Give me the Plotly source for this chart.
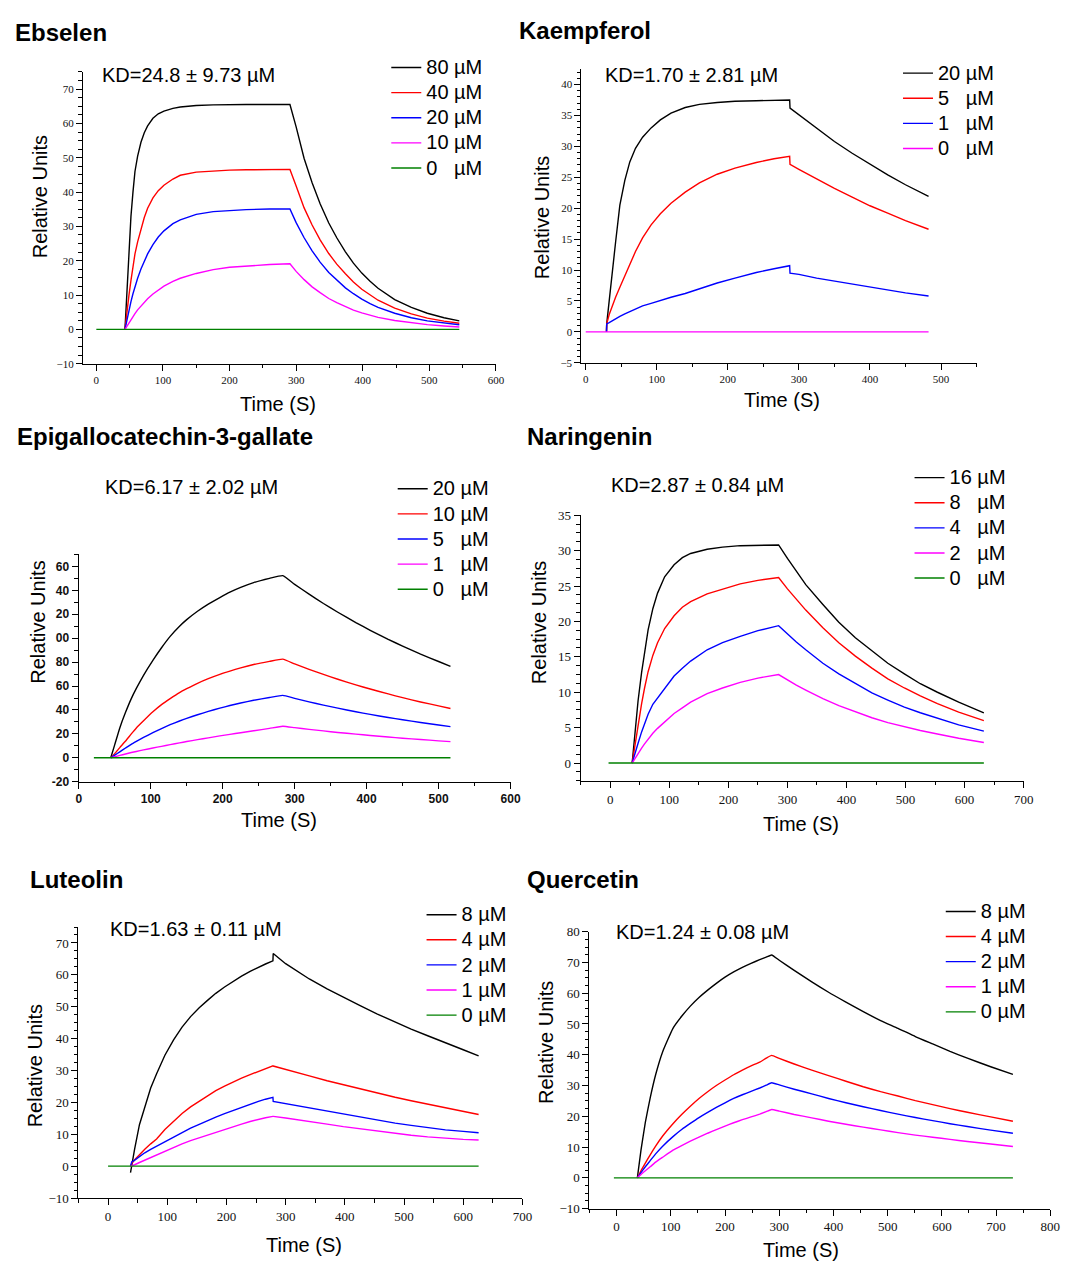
import plotly.graph_objects as go

W, H = 1070, 1270

# ---------------------------------------------------------------- data
# Ebselen
ebs_labels = ["80 µM", "40 µM", "20 µM", "10 µM", "0\u00a0\u00a0\u00a0µM"]
ebs_t = [43, 46, 49, 52, 55, 58, 62, 67, 72, 77, 85, 93, 101.5, 115, 126, 150, 175.5, 200, 225, 260, 290.7,
         300, 312, 324, 336, 349, 361, 374, 386, 398.6, 411, 423, 448, 473, 497, 522, 545]
ebs_80 = [0, 12, 22, 33, 40, 46, 50.5, 54.5, 57.3, 59.3, 61.5, 62.8, 63.6, 64.4, 64.8, 65.2, 65.4, 65.5, 65.5, 65.5, 65.5,
          59, 49.8, 42.7, 36.6, 31.0, 26.7, 22.6, 19.3, 16.4, 14.0, 12.0, 8.7, 6.4, 4.7, 3.4, 2.5]
ebs_40 = [0, 5.5, 10, 14.3, 18.5, 22, 25.5, 29.5, 32.6, 35.3, 38.3, 40.4, 42, 43.8, 44.9, 45.8, 46.2, 46.4, 46.5, 46.6, 46.6,
          41.8, 35.4, 30.4, 26.1, 22.1, 19.0, 16.2, 13.8, 11.7, 10.0, 8.5, 6.2, 4.5, 3.3, 2.4, 1.8]
ebs_20 = [0, 2.9, 5.6, 8.1, 10.4, 12.6, 14.9, 17.6, 20, 22, 24.7, 26.9, 28.7, 30.8, 31.9, 33.5, 34.3, 34.7, 34.9, 35.05, 35.1,
          31.1, 26.7, 22.9, 19.6, 16.6, 14.3, 12.1, 10.4, 8.8, 7.5, 6.4, 4.7, 3.4, 2.5, 1.8, 1.35]
ebs_10 = [0, 1.0, 2.0, 2.9, 3.8, 4.6, 5.7, 6.8, 7.9, 8.9, 10.3, 11.5, 12.6, 14.0, 14.9, 16.3, 17.4, 18.1, 18.5, 18.9, 19.1,
          16.9, 14.5, 12.4, 10.7, 9.0, 7.8, 6.6, 5.6, 4.8, 4.1, 3.5, 2.6, 1.9, 1.4, 1.0, 0.7]
ebs_0_t = [0, 545]
ebs_0 = [0, 0]

# Kaempferol
kae_labels = ["20 µM", "5\u00a0\u00a0\u00a0µM", "1\u00a0\u00a0\u00a0µM", "0\u00a0\u00a0\u00a0µM"]
kae_t = [29.2, 29.5, 33, 37, 42, 48, 55, 62, 70, 80, 92, 105, 120, 140, 160, 185, 210, 240, 265, 287,
         287.5, 300, 325, 350, 375, 400, 425, 450, 482.5]
kae_20 = [0, 1.3, 5, 9.5, 14.5, 20.5, 24.5, 27.5, 29.7, 31.5, 33, 34.3, 35.4, 36.3, 36.8, 37.1, 37.3, 37.4, 37.5, 37.5,
          36.2, 35.1, 32.9, 30.8, 28.9, 27.1, 25.4, 23.8, 21.9]
kae_5 = [0, 1.3, 2.8, 4.1, 5.6, 7.2, 9.0, 11.0, 13.0, 15.2, 17.3, 19.1, 20.8, 22.6, 24.1, 25.5, 26.5, 27.4, 28.0, 28.4,
         27.1, 26.3, 24.7, 23.2, 21.8, 20.4, 19.2, 18.0, 16.6]
kae_1 = [0, 1.3, 1.5, 1.8, 2.1, 2.5, 2.9, 3.3, 3.7, 4.2, 4.6, 5.1, 5.6, 6.2, 7.0, 7.9, 8.7, 9.6, 10.2, 10.7,
         9.5, 9.3, 8.7, 8.2, 7.7, 7.2, 6.8, 6.3, 5.8]
kae_0_t = [0, 482.5]
kae_0 = [0, 0]

# Epigallocatechin-3-gallate
egc_labels = ["20 µM", "10 µM", "5\u00a0\u00a0\u00a0µM", "1\u00a0\u00a0\u00a0µM", "0\u00a0\u00a0\u00a0µM"]
egc_t = [44.5, 50, 57, 65, 73, 80, 90, 103, 115, 127, 140, 150, 165, 180, 196, 210, 225, 243, 265, 283.5,
         300, 320, 340, 360, 385, 405, 430, 450, 475, 500, 516.5]
egc_20 = [0, 11, 25, 38, 49.5, 58, 69, 81.5, 92, 101.5, 110, 115.5, 122.5, 128.5, 134, 138.5, 142.5, 146.5, 150, 152.3,
          145, 136.8, 129, 121.7, 113, 106.6, 99, 93.4, 86.7, 80.5, 76.4]
egc_10 = [0, 3.5, 8.5, 14, 20, 25, 31, 38.5, 44.5, 49.5, 54.5, 57.8, 62.3, 66.2, 69.8, 72.5, 75.2, 78, 80.6, 82.5,
          78.5, 74, 69.7, 65.7, 61, 57.5, 53.4, 50.3, 46.7, 43.4, 41.2]
egc_5 = [0, 2.2, 5, 8.2, 11.3, 13.7, 17, 21, 24.5, 27.7, 30.8, 33, 36, 38.8, 41.5, 43.7, 45.8, 48.1, 50.4, 52.2,
         49.7, 46.8, 44.1, 41.5, 38.5, 36.3, 33.7, 31.8, 29.5, 27.4, 26.1]
egc_1 = [0, 0.9, 2, 3.2, 4.4, 5.3, 6.6, 8.2, 9.6, 11, 12.5, 13.6, 15.2, 16.7, 18.3, 19.6, 21, 22.6, 24.6, 26.4,
         25.2, 23.8, 22.5, 21.2, 19.8, 18.7, 17.4, 16.4, 15.3, 14.2, 13.5]
egc_0_t = [21, 516.5]
egc_0 = [0, 0]
egc_ytickvals = [-20, 0, 20, 40, 60, 80, 100, 120, 140, 160]
egc_yticktext = ["-20", "0", "20", "40", "60", "80", "00", "20", "40", "60"]

# Naringenin
nar_labels = ["16 µM", "8\u00a0\u00a0\u00a0µM", "4\u00a0\u00a0\u00a0µM", "2\u00a0\u00a0\u00a0µM", "0\u00a0\u00a0\u00a0µM"]
nar_t = [37, 42, 47, 53, 58, 64, 72, 80, 92, 108, 122, 136, 164, 190, 220, 250, 285,
         300, 315, 331, 360, 387, 415, 443, 470, 498, 525, 554, 590, 632.6]
nar_16 = [0, 5, 8.8, 12.8, 15.5, 18.8, 21.8, 24, 26.3, 28, 29, 29.6, 30.2, 30.5, 30.7, 30.75, 30.8,
          28.9, 27.1, 25.2, 22.4, 19.9, 17.7, 15.8, 14.1, 12.6, 11.2, 10, 8.6, 7.1]
nar_8 = [0, 2.8, 5.3, 8.4, 10.6, 12.9, 15.2, 17, 19, 20.8, 22, 22.8, 23.9, 24.6, 25.3, 25.8, 26.2,
         24.6, 23.1, 21.6, 19.1, 17.0, 15.1, 13.4, 11.9, 10.6, 9.5, 8.4, 7.2, 6.0]
nar_4 = [0, 1.5, 2.8, 4.4, 5.6, 6.9, 8.3, 9.2, 10.6, 12.3, 13.4, 14.4, 16, 17, 17.9, 18.7, 19.4,
         18.2, 17.1, 16, 14.1, 12.6, 11.2, 9.9, 8.9, 7.9, 7.1, 6.3, 5.4, 4.5]
nar_2 = [0, 0.7, 1.4, 2.1, 2.7, 3.4, 4.2, 4.9, 5.8, 7, 7.8, 8.6, 9.8, 10.6, 11.4, 12, 12.5,
         11.7, 11, 10.3, 9.1, 8.1, 7.2, 6.4, 5.7, 5.1, 4.6, 4.1, 3.5, 2.9]
nar_0_t = [-3, 632.6]
nar_0 = [0, 0]

# Luteolin
lut_labels = ["8 µM", "4 µM", "2 µM", "1 µM", "0 µM"]
lut_t = [37.9, 40, 45, 53, 62, 72, 82, 96, 110.7, 125, 139.4, 154, 168, 182, 196.8, 211, 225.5, 240, 254, 266, 278.5,
         279, 300, 320, 340, 370, 397.6, 425, 455, 485, 512, 540, 570, 600, 626]
lut_8 = [-2, 0.5, 5.5, 13, 18.8, 24.5, 29, 34.8, 39.6, 43.6, 46.9, 49.7, 52, 54.2, 56.2, 58, 59.6, 61.1, 62.4, 63.4, 64.4,
         66.7, 63.5, 61, 58.7, 55.6, 52.9, 50.4, 47.7, 45.1, 43, 40.9, 38.6, 36.5, 34.6]
lut_4 = [0, 0.8, 2, 3.6, 5.3, 7, 8.5, 11.5, 14.2, 16.5, 18.6, 20.4, 22.1, 23.7, 25.1, 26.4, 27.6, 28.7, 29.8, 30.7, 31.5,
         31.4, 30.4, 29.3, 28.3, 26.8, 25.5, 24.3, 22.9, 21.6, 20.5, 19.4, 18.3, 17.1, 16.2]
lut_2 = [0, 1.3, 1.9, 3, 4.2, 5.3, 6.3, 7.8, 9.2, 10.6, 11.9, 13.1, 14.3, 15.4, 16.5, 17.5, 18.5, 19.4, 20.3, 21, 21.6,
         20.3, 19.6, 18.8, 18.1, 17.1, 16.2, 15.3, 14.4, 13.5, 12.8, 12.1, 11.4, 10.9, 10.5]
lut_1 = [0, 0.1, 0.45, 1.15, 1.9, 2.75, 3.6, 4.7, 6.0, 7.0, 8.0, 8.9, 9.8, 10.7, 11.6, 12.4, 13.2, 14, 14.7, 15.2, 15.6,
         15.6, 15.1, 14.6, 14, 13.2, 12.4, 11.7, 11, 10.3, 9.7, 9.2, 8.7, 8.4, 8.2]
lut_0_t = [0, 626]
lut_0 = [0, 0]

# Quercetin
que_labels = ["8 µM", "4 µM", "2 µM", "1 µM", "0 µM"]
que_t = [38.3, 45, 53, 62, 72, 85, 104, 120, 136, 152, 168, 184, 200, 216, 232, 248, 264, 276, 286,
         300, 327.6, 360, 391, 423, 455, 487, 519, 551, 583, 615, 647, 690, 731]
que_8 = [0, 9, 18, 26, 33.5, 41, 48.6, 52.5, 55.8, 58.6, 61, 63.2, 65.2, 66.9, 68.4, 69.7, 70.9, 71.7, 72.4,
         70.7, 67.4, 63.7, 60.3, 57.1, 54, 51.1, 48.6, 45.9, 43.5, 41.1, 38.9, 36.1, 33.6]
que_4 = [0, 2.3, 4.8, 7.5, 10.3, 13.6, 17.6, 20.6, 23.3, 25.8, 28, 30, 31.8, 33.5, 35, 36.4, 37.6, 38.9, 39.8,
         38.8, 37.0, 35, 33.2, 31.4, 29.6, 28, 26.6, 25.1, 23.8, 22.5, 21.3, 19.8, 18.4]
que_2 = [0, 1.7, 3.6, 5.6, 7.8, 10.3, 13.4, 15.7, 17.7, 19.6, 21.3, 22.9, 24.4, 25.8, 27, 28.1, 29.2, 30.1, 30.9,
         30.2, 28.8, 27.3, 25.8, 24.4, 23.1, 21.9, 20.7, 19.6, 18.6, 17.6, 16.7, 15.5, 14.5]
que_1 = [0, 1.1, 2.3, 3.6, 5.1, 6.7, 9, 10.5, 11.9, 13.2, 14.5, 15.7, 16.8, 17.9, 18.9, 19.8, 20.7, 21.5, 22.2,
         21.7, 20.6, 19.5, 18.4, 17.4, 16.5, 15.6, 14.7, 13.9, 13.2, 12.5, 11.8, 11, 10.2]
que_0_t = [-5, 731]
que_0 = [0, 0]

titles = ["Ebselen", "Kaempferol", "Epigallocatechin-3-gallate", "Naringenin", "Luteolin", "Quercetin"]
kd_texts = ["KD=24.8 ± 9.73 µM", "KD=1.70 ± 2.81 µM", "KD=6.17 ± 2.02 µM",
            "KD=2.87 ± 0.84 µM", "KD=1.63 ± 0.11 µM", "KD=1.24 ± 0.08 µM"]

# ---------------------------------------------------------------- styling / layout
BLACK, RED, BLUE, MAG, GREEN = "#000000", "#ff0000", "#0000ff", "#ff00ff", "#008000"
SANS = "Liberation Sans, Arial, sans-serif"
SERIF = "Liberation Serif, Times New Roman, serif"

panels = [
    dict(t=ebs_t, series=[ebs_80, ebs_40, ebs_20, ebs_10], zt=ebs_0_t, zy=ebs_0, labels=ebs_labels,
         colors=[BLACK, RED, BLUE, MAG, GREEN], tfs=11, smooth=False,
         xpx=(81, 499), ypx=(65.7, 361), xr=[-20, 600], yr=[-10, 75], ydt=10, ymin=2.5,
         title=(10, 26.3), kd=(98, 68.8), ytl=(37, 192), xtl=(278, 402), leg=(393, 61)),
    dict(t=kae_t, series=[kae_20, kae_5, kae_1], zt=kae_0_t, zy=kae_0, labels=kae_labels,
         colors=[BLACK, RED, BLUE, MAG], tfs=11, smooth=False,
         xpx=(585.6, 985.5), ypx=(62.3, 360), xr=[-6, 550], yr=[-5, 42.6], ydt=5, ymin=1,
         title=(520, 24), kd=(607.7, 69), ytl=(546.3, 213), xtl=(788.3, 398), leg=(911, 66.7)),
    dict(t=egc_t, series=[egc_20, egc_10, egc_5, egc_1], zt=egc_0_t, zy=egc_0, labels=egc_labels,
         colors=[BLACK, RED, BLUE, MAG, GREEN], tfs=12, smooth=True,
         xpx=(76.7, 513.8), ypx=(554, 784), xr=[0, 600], yr=[-20, 170], ydt=20, ymin=10,
         title=(11.8, 435), kd=(101.4, 485.7), ytl=(35.5, 623), xtl=(279.9, 822.7), leg=(399.5, 487.3),
         bold=True),
    dict(t=nar_t, series=[nar_16, nar_8, nar_4, nar_2], zt=nar_0_t, zy=nar_0, labels=nar_labels,
         colors=[BLACK, RED, BLUE, MAG, GREEN], tfs=13, smooth=False,
         xpx=(584.9, 1033.2), ypx=(514.3, 783), xr=[-50, 700], yr=[-2.5, 35], ydt=5, ymin=1.25,
         title=(528.8, 435), kd=(613, 483.3), ytl=(542.8, 623.3), xtl=(807.6, 826.7), leg=(922.7, 476)),
    dict(t=lut_t, series=[lut_8, lut_4, lut_2, lut_1], zt=lut_0_t, zy=lut_0, labels=lut_labels,
         colors=[BLACK, RED, BLUE, MAG, GREEN], tfs=13, smooth=False,
         xpx=(76.4, 525.8), ypx=(931, 1205.3), xr=[-50, 700], yr=[-10, 75], ydt=10, ymin=2.5,
         title=(25.8, 883.3), kd=(106, 932.7), ytl=(32.7, 1071.7), xtl=(304.7, 1252.7), leg=(428.7, 918.3)),
    dict(t=que_t, series=[que_8, que_4, que_2, que_1], zt=que_0_t, zy=que_0, labels=que_labels,
         colors=[BLACK, RED, BLUE, MAG, GREEN], tfs=13, smooth=True,
         xpx=(593.7, 1060.2), ypx=(935.7, 1216), xr=[-50, 800], yr=[-10, 80], ydt=10, ymin=2.5,
         title=(528.8, 883.3), kd=(618.2, 936), ytl=(549.8, 1048.3), xtl=(807.6, 1257.5), leg=(954.3, 915)),
]


def fx(px):
    return px / W


def fy(py):
    return 1 - py / H


fig = go.Figure()
annotations = []
layout = {}

for i, p in enumerate(panels, start=1):
    sfx = "" if i == 1 else str(i)
    leg_id = "legend" if i == 1 else f"legend{i}"
    names = [f'<span style="font-size:20px">{lab}</span>' for lab in p["labels"]]
    shape = dict(shape="spline", smoothing=0.4) if p["smooth"] else dict(shape="linear")
    for k, vals in enumerate(p["series"]):
        fig.add_trace(go.Scatter(x=p["t"], y=vals, mode="lines", name=names[k],
                                 line=dict(color=p["colors"][k], width=1.4, **shape),
                                 xaxis=f"x{sfx}", yaxis=f"y{sfx}", legend=leg_id))
    k = len(p["series"])
    fig.add_trace(go.Scatter(x=p["zt"], y=p["zy"], mode="lines", name=names[k],
                             line=dict(color=p["colors"][k], width=1.4),
                             xaxis=f"x{sfx}", yaxis=f"y{sfx}", legend=leg_id))

    bold = p.get("bold", False)
    tfont = dict(family=SANS if bold else SERIF, size=p["tfs"], color="#111",
                 weight="bold" if bold else "normal")
    common = dict(showline=True, linecolor="black", linewidth=1.3, ticks="outside", ticklen=6,
                  tickwidth=1, tickcolor="black", showgrid=False, zeroline=False, tickfont=tfont,
                  fixedrange=True)
    layout[f"xaxis{sfx}"] = dict(common, domain=[fx(p["xpx"][0]), fx(p["xpx"][1])], range=p["xr"],
                                 anchor=f"y{sfx}", tick0=0, dtick=100,
                                 minor=dict(dtick=50, tick0=0, ticks="outside", ticklen=3.5,
                                            tickwidth=1, tickcolor="black"))
    ydict = dict(common, domain=[fy(p["ypx"][1]), fy(p["ypx"][0])], range=p["yr"],
                 anchor=f"x{sfx}", tick0=0, dtick=p["ydt"],
                 minor=dict(dtick=p["ymin"], tick0=0, ticks="outside", ticklen=3.5,
                            tickwidth=1, tickcolor="black"))
    if i == 3:
        ydict.update(tickmode="array", tickvals=egc_ytickvals, ticktext=egc_yticktext)
        ydict["minor"].update(tickmode="linear")
    layout[f"yaxis{sfx}"] = ydict

    layout[leg_id] = dict(x=fx(p["leg"][0] - 5), y=fy(p["leg"][1] - 17.5), xanchor="left", yanchor="top",
                          bgcolor="rgba(0,0,0,0)", borderwidth=0, tracegroupgap=0,
                          font=dict(family=SANS, size=17, color="black"), itemclick=False)

    annotations.append(dict(text=titles[i - 1], x=fx(p["title"][0]), y=fy(p["title"][1]),
                            xref="paper", yref="paper", xanchor="left", yanchor="middle",
                            showarrow=False, font=dict(family=SANS, size=24, color="black", weight="bold")))
    annotations.append(dict(text=kd_texts[i - 1], x=fx(p["kd"][0]), y=fy(p["kd"][1]),
                            xref="paper", yref="paper", xanchor="left", yanchor="middle",
                            showarrow=False, font=dict(family=SANS, size=20, color="black")))
    annotations.append(dict(text="Relative Units", x=fx(p["ytl"][0]), y=fy(p["ytl"][1]),
                            xref="paper", yref="paper", xanchor="center", yanchor="middle",
                            textangle=-90, showarrow=False, font=dict(family=SANS, size=20, color="black")))
    annotations.append(dict(text="Time (S)", x=fx(p["xtl"][0]), y=fy(p["xtl"][1]),
                            xref="paper", yref="paper", xanchor="center", yanchor="middle",
                            showarrow=False, font=dict(family=SANS, size=20, color="black")))

fig.update_layout(width=W, height=H, margin=dict(l=0, r=0, t=0, b=0), autosize=False,
                  paper_bgcolor="white", plot_bgcolor="white", showlegend=True,
                  annotations=annotations, **layout)

fig.write_html("out.html", config={"displayModeBar": False},
               post_script="document.body.style.margin='0';document.body.style.padding='0';"
                           "document.documentElement.style.overflow='hidden';")
